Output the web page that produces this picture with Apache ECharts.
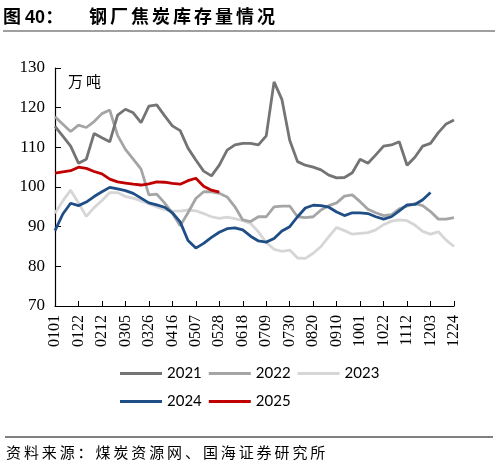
<!DOCTYPE html>
<html>
<head>
<meta charset="utf-8">
<script src="https://cdn.jsdelivr.net/npm/echarts@6/dist/echarts.min.js"></script>
<style>
  html, body { margin: 0; padding: 0; background: #fff; }
  #wrap { position: relative; width: 498px; height: 464px; overflow: hidden; }
  #chart { position: absolute; left: 0; top: 0; width: 498px; height: 464px; }
  .txt { position: absolute; white-space: nowrap; color: #000; }
  #title { left: 3px; top: 2px; font: bold 18px "Noto Sans CJK SC", sans-serif; }
  #title .num { font-family: "Liberation Sans", Arial, sans-serif; }
  #title .name { position: absolute; left: 86px; top: 0; letter-spacing: 3px; }
  #unit { left: 68px; top: 70px; font: 15px "Noto Sans CJK SC", serif; letter-spacing: 3px; }
  #source { left: 6px; top: 441px; font: 15px "Noto Sans CJK SC", serif; letter-spacing: 2.9px; }
</style>
</head>
<body>
<div id="wrap">
  <div id="chart"></div>
  <div id="title" class="txt">图 <span class="num">40</span>：<span class="name">钢厂焦炭库存量情况</span></div>
  <div id="unit" class="txt">万吨</div>
  <div id="source" class="txt">资料来源：煤炭资源网、国海证券研究所</div>
</div>
<script>
// 周度日期（每周一个点）
var weeks = ['0101','0108','0115','0122','0129','0205','0212','0219','0226','0305','0312','0319','0326',
  '0402','0409','0416','0423','0430','0507','0514','0521','0528','0604','0611','0618','0625',
  '0702','0709','0716','0723','0730','0806','0813','0820','0827','0903','0910','0917','0924',
  '1001','1008','1015','1022','1029','1105','1112','1119','1126','1203','1210','1217','1224'];

// 钢厂焦炭库存（万吨）
var y2021 = [115.3, 112.8, 110.3, 106.0, 107.0, 113.5, 112.4, 111.4, 118.1, 119.6,
  118.7, 116.2, 120.4, 120.7, 118.0, 115.4, 114.2, 109.8, 106.8, 104.0,
  102.8, 105.5, 109.3, 110.6, 111.0, 111.0, 110.6, 112.9, 126.5, 122.1,
  111.8, 106.4, 105.5, 105.0, 104.3, 103.0, 102.3, 102.4, 103.6, 107.0,
  106.0, 108.1, 110.3, 110.6, 111.4, 105.5, 107.5, 110.3, 111.0, 113.7,
  115.9, 116.9];
var y2022 = [117.7, 115.8, 114.0, 115.6, 115.0, 116.5, 118.5, 119.4, 113.0, 109.5,
  107.0, 104.5, 98.0, 98.2, 96.0, 93.4, 90.2, 93.5, 97.1, 98.8,
  98.8, 98.4, 97.5, 95.0, 91.7, 91.3, 92.5, 92.5, 95.0, 95.2,
  95.2, 92.5, 92.3, 92.5, 94.2, 95.3, 96.0, 97.7, 98.0, 96.3,
  94.4, 93.5, 92.8, 93.0, 94.5, 95.2, 95.8, 95.3, 93.8, 91.9,
  91.9, 92.3];
var y2023 = [93.4, 96.5, 99.2, 96.0, 92.6, 94.8, 96.6, 98.6, 98.6, 97.6,
  97.2, 96.5, 95.8, 95.0, 94.3, 94.0, 93.9, 94.2, 94.0, 93.3,
  92.5, 92.1, 92.4, 92.0, 91.5, 90.8, 88.7, 86.0, 84.3, 83.8,
  84.1, 82.1, 82.0, 83.3, 85.0, 87.5, 89.8, 89.0, 88.1, 88.3,
  88.5, 89.2, 90.5, 91.4, 91.7, 91.5, 90.4, 88.8, 88.1, 88.7,
  86.6, 85.0];
var y2024 = [89.0, 93.2, 95.9, 95.3, 96.2, 97.6, 98.8, 99.9, 99.5, 99.1,
  98.4, 97.2, 96.0, 95.5, 94.9, 93.5, 91.2, 86.5, 84.6, 85.8,
  87.3, 88.6, 89.5, 89.7, 89.2, 87.6, 86.4, 86.1, 87.0, 88.9,
  90.0, 92.5, 94.7, 95.4, 95.3, 94.9, 93.7, 92.8, 93.5, 93.5,
  93.3, 92.5, 91.9, 92.5, 94.0, 95.5, 95.6, 96.8, 98.6];
var y2025 = [103.5, 103.8, 104.1, 105.0, 104.7, 103.9, 103.3, 102.0, 101.3, 101.0,
  100.7, 100.5, 100.8, 101.3, 101.2, 100.9, 100.7, 101.6, 102.2, 100.2,
  99.2, 98.7];

var yearNames = ['2021', '2022', '2023', '2024', '2025'];
var yearData = [y2021, y2022, y2023, y2024, y2025];
var yearColors = ['#747474', '#a5a5a5', '#d6d6d6', '#1f4e87', '#c00000'];

var chart = echarts.init(document.getElementById('chart'), null, { renderer: 'canvas' });

var series = yearNames.map(function (name, i) {
  return {
    name: name,
    type: 'line',
    data: yearData[i],
    symbol: 'none',
    smooth: false,
    z: i === 4 ? 10 : (i === 3 ? 9 : 5 - i),
    lineStyle: { color: yearColors[i], width: 2.8 },
    itemStyle: { color: yearColors[i] }
  };
});

var legendText = { fontFamily: 'Lato, "Liberation Sans", sans-serif', fontSize: 15, color: '#000' };

var option = {
  animation: false,
  backgroundColor: '#fff',
  grid: { left: 55, top: 68, right: 44, bottom: 158, containLabel: false },
  legend: [{
    data: ['2021', '2022', '2023'],
    left: 115, top: 361,
    icon: 'rect', itemWidth: 42, itemHeight: 3, itemGap: 7,
    textStyle: legendText
  }, {
    data: ['2024', '2025'],
    left: 115, top: 389,
    icon: 'rect', itemWidth: 42, itemHeight: 3, itemGap: 7,
    textStyle: legendText
  }],
  xAxis: {
    type: 'category',
    data: weeks,
    boundaryGap: false,
    axisLine: { lineStyle: { color: '#000', width: 1.2 } },
    axisTick: { inside: true, length: 5, interval: 2, lineStyle: { color: '#000' } },
    axisLabel: {
      interval: 2, rotate: 90, margin: 9,
      fontFamily: '"Liberation Serif", "Times New Roman", serif', fontSize: 16, color: '#000'
    },
    splitLine: { show: false }
  },
  yAxis: {
    type: 'value',
    min: 70, max: 130, interval: 10,
    axisLine: { show: true, lineStyle: { color: '#000', width: 1.2 } },
    axisTick: { show: true, inside: true, length: 6, lineStyle: { color: '#000' } },
    axisLabel: {
      margin: 10,
      fontFamily: '"Liberation Serif", "Times New Roman", serif', fontSize: 17, color: '#000'
    },
    splitLine: { show: false }
  },
  graphic: [{
    type: 'line', shape: { x1: 3, y1: 31, x2: 495, y2: 31 },
    style: { stroke: '#7f7f7f', lineWidth: 1.5 }
  }, {
    type: 'line', shape: { x1: 5, y1: 437, x2: 493, y2: 437 },
    style: { stroke: '#000', lineWidth: 1 }
  }],
  series: series
};

chart.setOption(option);
</script>
</body>
</html>
